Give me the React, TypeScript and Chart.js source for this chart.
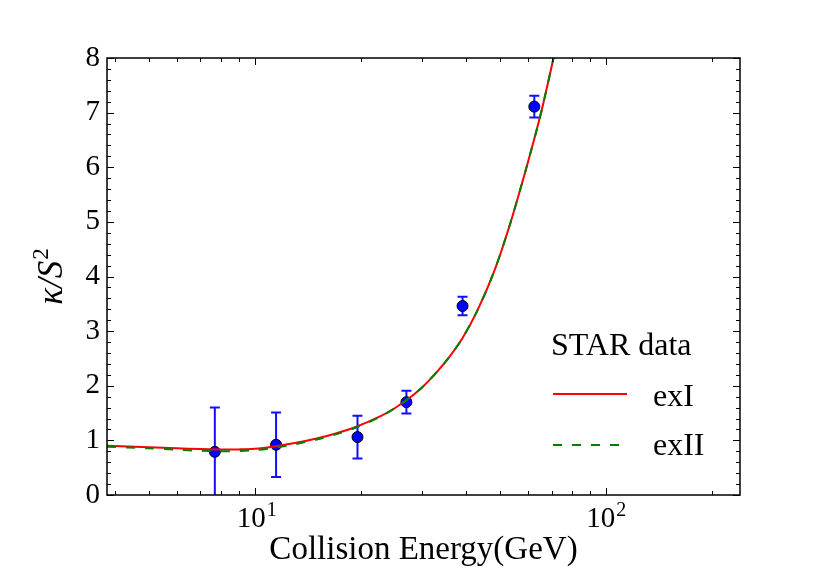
import { useEffect, useRef } from 'react';
import { Chart, registerables } from 'chart.js';
import type { Plugin } from 'chart.js';

Chart.register(...registerables);

// STAR measurements
const energy = [7.7, 11.5, 19.6, 27, 39, 62.4];
const kappaS2 = [0.79, 0.92, 1.06, 1.7, 3.46, 7.11];
const kappaErr = [0.81, 0.59, 0.39, 0.21, 0.17, 0.2];

// model curves
const curveEnergy = [3.8, 5, 6, 7, 8, 9, 10, 11.5, 13, 15, 17, 19.6, 22.8, 25, 28.3, 31, 35.1, 39, 43, 48, 53, 59, 65, 70.6, 73];
const exI = [0.9, 0.875, 0.855, 0.84, 0.835, 0.835, 0.845, 0.894, 0.95, 1.034, 1.126, 1.259, 1.444, 1.588, 1.836, 2.066, 2.46, 2.874, 3.38, 4.1, 4.92, 5.95, 6.96, 7.97, 8.42];
const exII = [0.885, 0.855, 0.83, 0.81, 0.8, 0.805, 0.82, 0.87, 0.93, 1.015, 1.11, 1.245, 1.435, 1.588, 1.836, 2.066, 2.46, 2.874, 3.38, 4.1, 4.92, 5.95, 6.96, 7.97, 8.42];

const xMajor = [10, 100];
const xMajorExp = ['1', '2'];
const xMin = 3.8;
const xMax = 240;
const yMin = 0;
const yMax = 8;

const FONT = "'Liberation Serif', 'Times New Roman', serif";

const frameAndBars: Plugin<'scatter'> = {
  id: 'frameAndBars',
  beforeDatasetsDraw(chart) {
    const { ctx, chartArea: a } = chart;
    const x = chart.scales.x;
    const y = chart.scales.y;
    ctx.save();
    ctx.beginPath();
    ctx.rect(a.left, a.top, a.right - a.left, a.bottom - a.top);
    ctx.clip();
    ctx.strokeStyle = '#1010ff';
    ctx.lineWidth = 2;
    energy.forEach((e, i) => {
      const px = x.getPixelForValue(e);
      const top = y.getPixelForValue(kappaS2[i] + kappaErr[i]);
      const bot = y.getPixelForValue(kappaS2[i] - kappaErr[i]);
      ctx.beginPath();
      ctx.moveTo(px, top);
      ctx.lineTo(px, bot);
      ctx.moveTo(px - 5, top);
      ctx.lineTo(px + 5, top);
      ctx.moveTo(px - 5, bot);
      ctx.lineTo(px + 5, bot);
      ctx.stroke();
    });
    ctx.restore();
  },
  afterDraw(chart) {
    const { ctx, chartArea: a } = chart;
    const x = chart.scales.x;
    const y = chart.scales.y;
    ctx.save();
    ctx.strokeStyle = '#000';
    ctx.lineWidth = 1;
    // x ticks, inward on bottom and top
    for (let d = 1; d <= 100; d *= 10) {
      for (let k = 1; k <= 9; k++) {
        const v = d * k;
        if (v < xMin || v > xMax) continue;
        const len = k === 1 ? 7 : 4;
        const px = Math.round(x.getPixelForValue(v)) + 0.5;
        ctx.beginPath();
        ctx.moveTo(px, a.bottom);
        ctx.lineTo(px, a.bottom - len);
        ctx.moveTo(px, a.top);
        ctx.lineTo(px, a.top + len);
        ctx.stroke();
      }
    }
    // y ticks, every 0.2
    for (let i = 0; i <= (yMax - yMin) * 5; i++) {
      const v = yMin + i * 0.2;
      const len = i % 5 === 0 ? 7 : 4;
      const py = Math.round(y.getPixelForValue(v)) + 0.5;
      ctx.beginPath();
      ctx.moveTo(a.left, py);
      ctx.lineTo(a.left + len, py);
      ctx.moveTo(a.right, py);
      ctx.lineTo(a.right - len, py);
      ctx.stroke();
    }
    ctx.lineWidth = 1.5;
    ctx.strokeRect(a.left, a.top, a.right - a.left, a.bottom - a.top);

    ctx.fillStyle = '#000';
    ctx.textAlign = 'left';
    ctx.textBaseline = 'alphabetic';

    // decade labels with raised exponents
    xMajor.forEach((v, i) => {
      ctx.font = `29px ${FONT}`;
      const wBase = ctx.measureText('10').width;
      ctx.font = `20px ${FONT}`;
      const wExp = ctx.measureText(xMajorExp[i]).width;
      const start = x.getPixelForValue(v) - (wBase + wExp + 1) / 2 + (i === 0 ? 2 : 0);
      ctx.font = `29px ${FONT}`;
      ctx.fillText('10', start, a.bottom + 32);
      ctx.font = `20px ${FONT}`;
      ctx.fillText(xMajorExp[i], start + wBase + 1, a.bottom + 21);
    });

    // y axis title: κ/S²
    ctx.save();
    ctx.translate(50, (a.top + a.bottom) / 2);
    ctx.rotate(-Math.PI / 2);
    ctx.font = `italic 35px ${FONT}`;
    const wMain = ctx.measureText('κ/S').width;
    ctx.font = `23px ${FONT}`;
    const wSup = ctx.measureText('2').width;
    const sx = -(wMain + wSup + 1) / 2;
    ctx.font = `italic 35px ${FONT}`;
    ctx.fillText('κ/S', sx, 12);
    ctx.font = `23px ${FONT}`;
    ctx.fillText('2', sx + wMain + 1, -2);
    ctx.restore();

    // legend in the lower right corner
    const ds = chart.data.datasets;
    ctx.font = `32px ${FONT}`;
    ctx.textBaseline = 'middle';
    ctx.fillText(String(ds[2].label), 551, 347);
    ctx.lineWidth = 2;
    ctx.strokeStyle = '#ff0000';
    ctx.beginPath();
    ctx.moveTo(553, 394);
    ctx.lineTo(627, 394);
    ctx.stroke();
    ctx.fillText(String(ds[1].label), 653, 398);
    ctx.strokeStyle = '#008000';
    ctx.setLineDash([9, 10]);
    ctx.beginPath();
    ctx.moveTo(553, 445);
    ctx.lineTo(627, 445);
    ctx.stroke();
    ctx.setLineDash([]);
    ctx.fillText(String(ds[0].label), 653, 447);
    ctx.restore();
  },
};

function KappaChart() {
  const canvasRef = useRef<HTMLCanvasElement>(null);
  const chartRef = useRef<Chart<'scatter'> | null>(null);

  useEffect(() => {
    if (!canvasRef.current) return;
    if (chartRef.current) chartRef.current.destroy();

    chartRef.current = new Chart(canvasRef.current, {
      type: 'scatter',
      data: {
        datasets: [
          {
            label: 'exII',
            data: curveEnergy.map((e, i) => ({ x: e, y: exII[i] })),
            showLine: true,
            borderColor: '#008000',
            borderWidth: 2,
            borderDash: [9, 10],
            pointRadius: 0,
            tension: 0.3,
            order: 0,
          },
          {
            label: 'exI',
            data: curveEnergy.map((e, i) => ({ x: e, y: exI[i] })),
            showLine: true,
            borderColor: '#ff0000',
            borderWidth: 2,
            pointRadius: 0,
            tension: 0.3,
            order: 1,
          },
          {
            label: 'STAR data',
            data: energy.map((e, i) => ({ x: e, y: kappaS2[i] })),
            backgroundColor: '#0000ff',
            borderColor: '#000',
            borderWidth: 1,
            pointRadius: 5.5,
            order: 2,
          },
        ],
      },
      options: {
        responsive: true,
        maintainAspectRatio: false,
        animation: false,
        layout: { padding: { left: 0, top: 58, right: 83, bottom: 0 } },
        plugins: {
          legend: { display: false },
          tooltip: { enabled: false },
        },
        scales: {
          x: {
            type: 'logarithmic',
            min: xMin,
            max: xMax,
            afterBuildTicks: (s) => {
              s.ticks = xMajor.map((v) => ({ value: v }));
            },
            afterFit: (s) => {
              s.height = 89;
            },
            ticks: { display: false },
            grid: { display: false, drawTicks: false },
            border: { display: false },
            title: {
              display: true,
              text: 'Collision Energy(GeV)',
              color: '#000',
              font: { family: FONT, size: 33 },
              padding: { top: 0, bottom: 14 },
            },
          },
          y: {
            min: yMin,
            max: yMax,
            afterFit: (s) => {
              s.width = 107;
            },
            ticks: {
              stepSize: 1,
              color: '#000',
              font: { family: FONT, size: 29 },
              padding: 7,
            },
            grid: { display: false, drawTicks: false },
            border: { display: false },
            title: { display: false },
          },
        },
      },
      plugins: [frameAndBars],
    });

    return () => {
      chartRef.current?.destroy();
      chartRef.current = null;
    };
  }, []);

  return (
    <div style={{ position: 'absolute', left: 0, top: 0, width: 823, height: 584, background: '#fff' }}>
      <canvas ref={canvasRef} />
    </div>
  );
}

export default function App() {
  return <KappaChart />;
}
